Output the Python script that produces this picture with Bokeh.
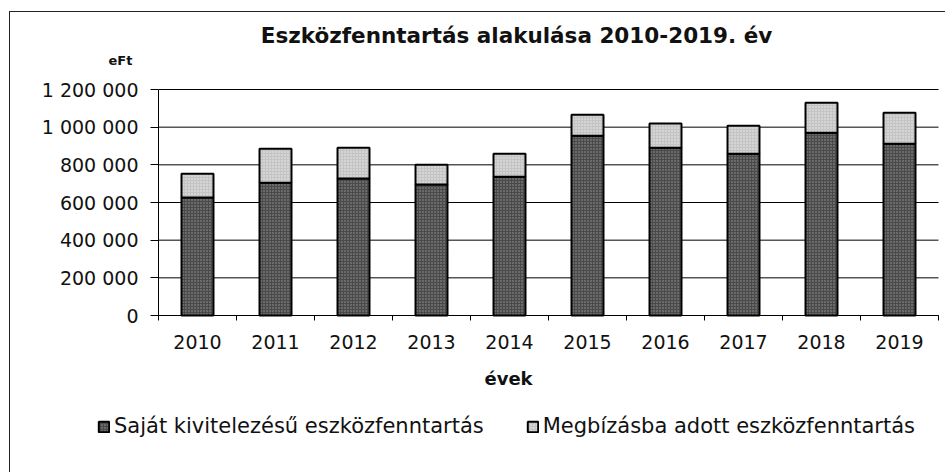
from bokeh.plotting import figure
from bokeh.models import (ColumnDataSource, FixedTicker, Legend, LegendItem, Label,
                          Range1d, CustomJSTickFormatter)
from bokeh.embed import file_html
from bokeh.resources import INLINE

years = [2010, 2011, 2012, 2013, 2014, 2015, 2016, 2017, 2018, 2019]
sajat = [626000, 705000, 727000, 695000, 737000, 955000, 891000, 859000, 971000, 912000]
megbizas = [127000, 181000, 164000, 106000, 122000, 111000, 128000, 149000, 159000, 165000]
y_ticks = [0, 200000, 400000, 600000, 800000, 1000000, 1200000]
series_names = ["Saját kivitelezésű eszközfenntartás", "Megbízásba adott eszközfenntartás"]
title_text = "Eszközfenntartás alakulása 2010-2019. év"
unit_text = "eFt"
x_title = "évek"

FONT = "DejaVu Sans"
DARK = dict(fill_color="#4a4a4a", line_color="black", line_width=2,
            hatch_pattern="dot", hatch_color="#9a9a9a", hatch_scale=3, hatch_weight=1)
LIGHT = dict(fill_color="#c4c4c4", line_color="black", line_width=2,
             hatch_pattern="dot", hatch_color="#eeeeee", hatch_scale=3, hatch_weight=1)

# ---- geometry (pixels) ----
OX, OY = 10, 12            # page position of the canvas (after css margin + border)
W, H = 936, 461            # canvas size; the plot frame fills the whole canvas
AX_LEFT, AX_BOTTOM, AX_TOP = 158, 315, 89   # page px of the axis box
CAT_PX = 78                # pixels per category

x_lo = years[0] - 0.5
x_start = x_lo - (AX_LEFT - OX) / CAT_PX
x_end = x_start + W / CAT_PX
ymax = y_ticks[-1]
y_per_px = ymax / (AX_BOTTOM - AX_TOP)
y_end = ymax + (AX_TOP - OY) * y_per_px
y_start = -(OY + H - AX_BOTTOM) * y_per_px

top = [a + b for a, b in zip(sajat, megbizas)]
src = ColumnDataSource(dict(x=years, sajat=sajat, megbizas=megbizas, top=top,
                            zero=[0] * len(years)))

p = figure(width=W, height=H, output_backend="svg", toolbar_location=None,
           x_range=Range1d(x_start, x_end), y_range=Range1d(y_start, y_end),
           min_border=0, min_border_left=0, min_border_right=0,
           min_border_top=0, min_border_bottom=0)
p.styles = {"margin-left": "9px", "margin-top": "11px",
            "border-top": "1px solid #222", "border-left": "1px solid #222"}
p.outline_line_color = None
p.background_fill_color = "white"
p.border_fill_color = "white"
p.xgrid.grid_line_color = None
p.ygrid.grid_line_color = None

# horizontal gridlines across the category area
x_hi = years[-1] + 0.5
p.segment(x0=[x_lo] * len(y_ticks), x1=[x_hi] * len(y_ticks), y0=y_ticks, y1=y_ticks,
          line_color="black", line_width=1)

r1 = p.vbar(x="x", bottom="zero", top="sajat", width=0.41, source=src, **DARK)
r2 = p.vbar(x="x", bottom="sajat", top="top", width=0.41, source=src, **LIGHT)

# axes fixed inside the frame
xa = p.xaxis[0]
xa.fixed_location = 0
xa.bounds = (x_lo, x_hi)
xa.ticker = FixedTicker(ticks=years, minor_ticks=[y - 0.5 for y in years] + [x_hi])
xa.major_tick_line_color = None
xa.major_tick_out = 0
xa.major_tick_in = 0
xa.minor_tick_out = 5
xa.minor_tick_in = 0
xa.minor_tick_line_color = "black"
xa.axis_line_color = "black"
xa.major_label_text_font = FONT
xa.major_label_text_font_size = "19px"
xa.major_label_text_color = "#111"
xa.major_label_standoff = 14

ya = p.yaxis[0]
ya.fixed_location = x_lo
ya.bounds = (0, ymax)
ya.ticker = FixedTicker(ticks=y_ticks)
ya.formatter = CustomJSTickFormatter(code="""
return Math.round(tick).toString().replace(/\\B(?=(\\d{3})+(?!\\d))/g, ' ');
""")
ya.major_tick_out = 8
ya.major_tick_in = 0
ya.minor_tick_line_color = None
ya.axis_line_color = "black"
ya.major_tick_line_color = "black"
ya.major_label_text_font = FONT
ya.major_label_text_font_size = "19px"
ya.major_label_text_color = "#111"
ya.major_label_standoff = 12

# texts (screen units: from canvas left / canvas bottom)
def lab(px, py, text, size):
    p.add_layout(Label(x=px - OX, y=OY + H - py, x_units="screen", y_units="screen",
                       text=text, text_font=FONT, text_font_style="bold",
                       text_font_size=size, text_align="center", text_baseline="middle",
                       text_color="#111"))

lab(516, 35, title_text, "21.5px")
lab(120, 60, unit_text, "13px")
lab(508, 378, x_title, "18px")

legend = Legend(items=[LegendItem(label=series_names[0], renderers=[r1]),
                       LegendItem(label=series_names[1], renderers=[r2])],
                orientation="horizontal", location=(97 - OX, OY + H - 426 - 12),
                glyph_width=13, glyph_height=13, label_standoff=4, spacing=42,
                padding=0, margin=0, border_line_color=None, background_fill_alpha=0,
                label_text_font=FONT, label_text_font_size="21px", label_text_color="#111")
p.add_layout(legend, "center")

open("out.html", "w").write(file_html(p, INLINE))
